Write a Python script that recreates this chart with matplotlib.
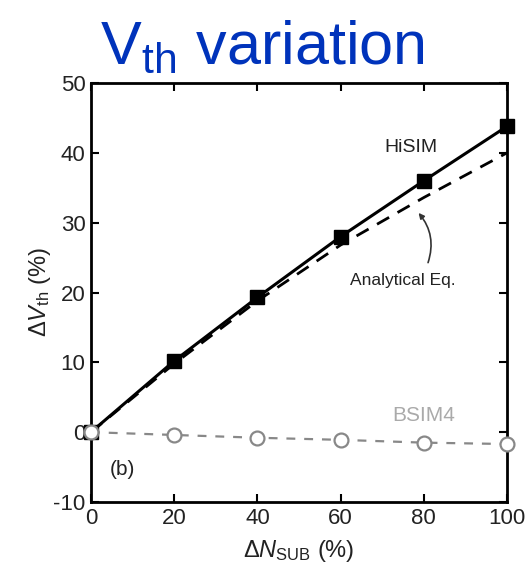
import matplotlib
matplotlib.use("Agg")
import matplotlib.pyplot as plt
from matplotlib.patches import FancyArrowPatch

plt.rcParams['font.family'] = ['Liberation Sans', 'DejaVu Sans']
plt.rcParams['mathtext.fontset'] = 'custom'
plt.rcParams['mathtext.rm'] = 'Liberation Sans'
plt.rcParams['mathtext.it'] = 'Liberation Sans:italic'
plt.rcParams['axes.unicode_minus'] = False

# Substrate doping variation (%)
dn_sub = [0, 20, 40, 60, 80, 100]
# Threshold voltage variation (%)
hisim = [0, 10.2, 19.3, 28.0, 36.0, 43.8]
analytical = [0, 9.8, 18.8, 26.8, 33.6, 40.0]
bsim4 = [0, -0.4, -0.8, -1.1, -1.5, -1.7]

xticks = [0, 20, 40, 60, 80, 100]
yticks = [-10, 0, 10, 20, 30, 40, 50]

fig = plt.figure(figsize=(5.28, 5.65), dpi=100)
ax = fig.add_axes([0.1723, 0.1115, 0.788, 0.7416])

ax.plot(dn_sub, analytical, color='black', lw=2.0, ls=(0, (5, 3.5)), zorder=2)
ax.plot(dn_sub, hisim, color='black', lw=2.2, marker='s', ms=10,
        mfc='black', mec='black', clip_on=False, zorder=3)
ax.plot(dn_sub, bsim4, color='#888888', lw=1.6, ls=(0, (4, 4)), marker='o',
        ms=10, mfc='white', mec='#888888', mew=1.6, clip_on=False, zorder=3)

ax.set_xlim(0, 100)
ax.set_ylim(-10, 50)
ax.set_xticks(xticks)
ax.set_yticks(yticks)
ax.tick_params(direction='in', length=6, width=1.5, labelsize=16,
               top=True, right=True, labelcolor='#222222', pad=4)
for s in ax.spines.values():
    s.set_linewidth(2.0)

ax.set_xlabel(r'$\Delta N_{\mathrm{SUB}}$ (%)', fontsize=17, color='#222222', labelpad=7)
ax.set_ylabel(r'$\Delta V_{\mathrm{th}}$ (%)', fontsize=17, color='#222222', labelpad=0)

ax.text(77, 40.7, 'HiSIM', fontsize=14, ha='center', va='center', color='#222222')
ax.text(75, 21.7, 'Analytical Eq.', fontsize=12.5, ha='center', va='center', color='#222222')
ax.text(80, 2.4, 'BSIM4', fontsize=15, ha='center', va='center', color='#aaaaaa')
ax.text(4.5, -5.4, '(b)', fontsize=15, ha='left', va='center', color='#222222')

arrow = FancyArrowPatch((80.8, 23.9), (78.3, 31.7), connectionstyle='arc3,rad=0.3',
                        arrowstyle='-|>', mutation_scale=8, color='#333333', lw=1.2)
ax.add_patch(arrow)

fig.text(0.497, 0.915, r'V$_{\mathrm{th}}$ variation', fontsize=44, color='#0033bb',
         ha='center', va='center')

fig.savefig('out.png', dpi=100)
